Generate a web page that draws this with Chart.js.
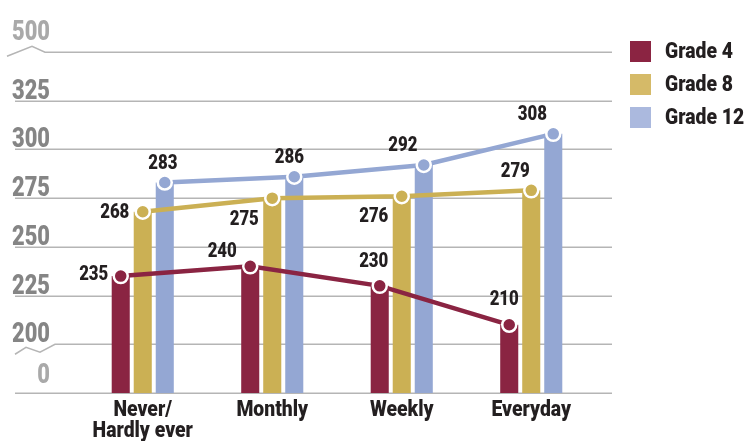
<!DOCTYPE html>
<html>
<head>
<meta charset="utf-8">
<script src="https://cdn.jsdelivr.net/npm/chart.js@4.4.1/dist/chart.umd.min.js"></script>
<style>
  html, body { margin: 0; padding: 0; background: #fff; }
  #wrap { width: 747px; height: 441px; }
</style>
</head>
<body>
<div id="wrap"><canvas id="chart" width="747" height="441"></canvas></div>
<script>
// chart values
const categories = [['Never/', 'Hardly ever'], 'Monthly', 'Weekly', 'Everyday'];
const seriesNames = ['Grade 4', 'Grade 8', 'Grade 12'];
const grade4 = [235, 240, 230, 210];
const grade8 = [268, 275, 276, 279];
const grade12 = [283, 286, 292, 308];
// broken axis: 0, then 200..325, then 500
const yTickLabels = ['0', '200', '225', '250', '275', '300', '325', '500'];

const barColors = ['#8a2442', '#cbb054', '#94a7d3'];
const legendColors = ['#8b2442', '#d5ba68', '#abb9de'];
const FONT = 'Roboto, "DejaVu Sans", sans-serif';

// label offsets from each point (dx, dy)
const labelOffsets = [
    [[-27, -1], [-28, -15], [-6, -24], [-5, -25]],
    [[-28, 1], [-28, 22], [-28, 21], [-16, -19]],
    [[-2, -19], [-5, -19], [-21, -19], [-21, -19]]
];

// map a real value onto the broken axis (one step per tick)
function toAxis(v) {
    if (v <= 0) return 0;
    if (v > 325) return 7;
    return 1 + (v - 200) / 25;
}

// the source uses a condensed face, so squeeze the text horizontally
function narrowText(ctx, text, x, y, align, squeeze) {
    ctx.save();
    ctx.translate(x, y);
    ctx.scale(squeeze, 1);
    ctx.textAlign = align;
    ctx.fillText(text, 0, 0);
    ctx.restore();
}

const allSeries = [grade4, grade8, grade12];

const datasets = [];
allSeries.forEach(function (vals, i) {
    datasets.push({
        type: 'bar',
        label: seriesNames[i],
        data: vals.map(toAxis),
        backgroundColor: barColors[i],
        borderWidth: 0,
        categoryPercentage: 0.51,
        barPercentage: 0.82,
        order: 2
    });
});
allSeries.forEach(function (vals, i) {
    datasets.push({
        type: 'line',
        label: seriesNames[i] + ' line',
        data: vals.map(toAxis),
        borderColor: barColors[i],
        borderWidth: 4.5,
        pointRadius: 7,
        pointBackgroundColor: barColors[i],
        pointBorderColor: '#ffffff',
        pointBorderWidth: 2.5,
        tension: 0,
        order: 1
    });
});

const brokenAxis = {
    id: 'brokenAxis',
    afterDatasetsUpdate(chart) {
        // put each line point on top of its own bar
        for (let i = 0; i < 3; i++) {
            const bars = chart.getDatasetMeta(i).data;
            const pts = chart.getDatasetMeta(i + 3).data;
            pts.forEach(function (p, j) { p.x = bars[j].x; });
        }
    },
    beforeDatasetsDraw(chart) {
        const ctx = chart.ctx;
        const y = chart.scales.y;
        ctx.save();
        ctx.strokeStyle = '#c4c4c4';
        ctx.lineWidth = 1.5;
        yTickLabels.forEach(function (t, k) {
            const py = Math.round(y.getPixelForValue(k)) + 0.25;
            ctx.beginPath();
            if (k === 7) {
                ctx.moveTo(7, py + 4);
                ctx.lineTo(32, py - 6);
                ctx.lineTo(45, py);
            } else if (k === 1) {
                ctx.moveTo(15, py + 10);
                ctx.lineTo(26, py + 3);
                ctx.lineTo(40, py + 8);
                ctx.lineTo(55, py);
            } else {
                ctx.moveTo(15, py);
            }
            ctx.lineTo(612, py);
            if (k === 0) ctx.strokeStyle = '#b5b5b5';
            ctx.stroke();
        });

        // y tick labels
        ctx.font = '900 28px ' + FONT;
        ctx.textBaseline = 'alphabetic';
        yTickLabels.forEach(function (t, k) {
            const py = y.getPixelForValue(k);
            let base = py - 2;
            if (k === 7) base = py - 12;
            if (k === 0) base = py - 10;
            ctx.fillStyle = (k === 0 || k === 7) ? '#a9a9a9' : '#858585';
            narrowText(ctx, t, 50, base, 'right', 0.78);
        });
        ctx.restore();
    },
    afterDatasetsDraw(chart) {
        const ctx = chart.ctx;
        const x = chart.scales.x;
        ctx.save();
        // value labels
        ctx.font = '900 21px ' + FONT;
        ctx.fillStyle = '#231f20';
        ctx.textBaseline = 'middle';
        for (let i = 0; i < 3; i++) {
            const pts = chart.getDatasetMeta(i + 3).data;
            pts.forEach(function (p, j) {
                const off = labelOffsets[i][j];
                narrowText(ctx, String(allSeries[i][j]), p.x + off[0], p.y + off[1], 'center', 0.8);
            });
        }

        // category labels
        ctx.font = '900 22px ' + FONT;
        ctx.textBaseline = 'alphabetic';
        categories.forEach(function (c, j) {
            const cx = x.getPixelForValue(j);
            const lines = Array.isArray(c) ? c : [c];
            lines.forEach(function (l, n) {
                narrowText(ctx, l, cx, 416 + n * 21, 'center', 0.88);
            });
        });

        // legend
        ctx.textBaseline = 'middle';
        seriesNames.forEach(function (name, i) {
            const top = 41 + i * 33;
            ctx.fillStyle = legendColors[i];
            ctx.fillRect(630, top, 21, 21);
            ctx.fillStyle = '#231f20';
            narrowText(ctx, name, 665, top + 11, 'left', 0.88);
        });
        ctx.restore();
    }
};

new Chart(document.getElementById('chart').getContext('2d'), {
    data: {
        labels: categories.map(function (c) { return Array.isArray(c) ? c.join(' ') : c; }),
        datasets: datasets
    },
    options: {
        responsive: false,
        devicePixelRatio: 1,
        animation: false,
        layout: { padding: { top: 52, bottom: 48, left: 78, right: 151 } },
        plugins: { legend: { display: false }, tooltip: { enabled: false } },
        scales: {
            x: { display: false },
            y: { display: false, min: 0, max: 7 }
        }
    },
    plugins: [brokenAxis]
});
</script>
</body>
</html>
